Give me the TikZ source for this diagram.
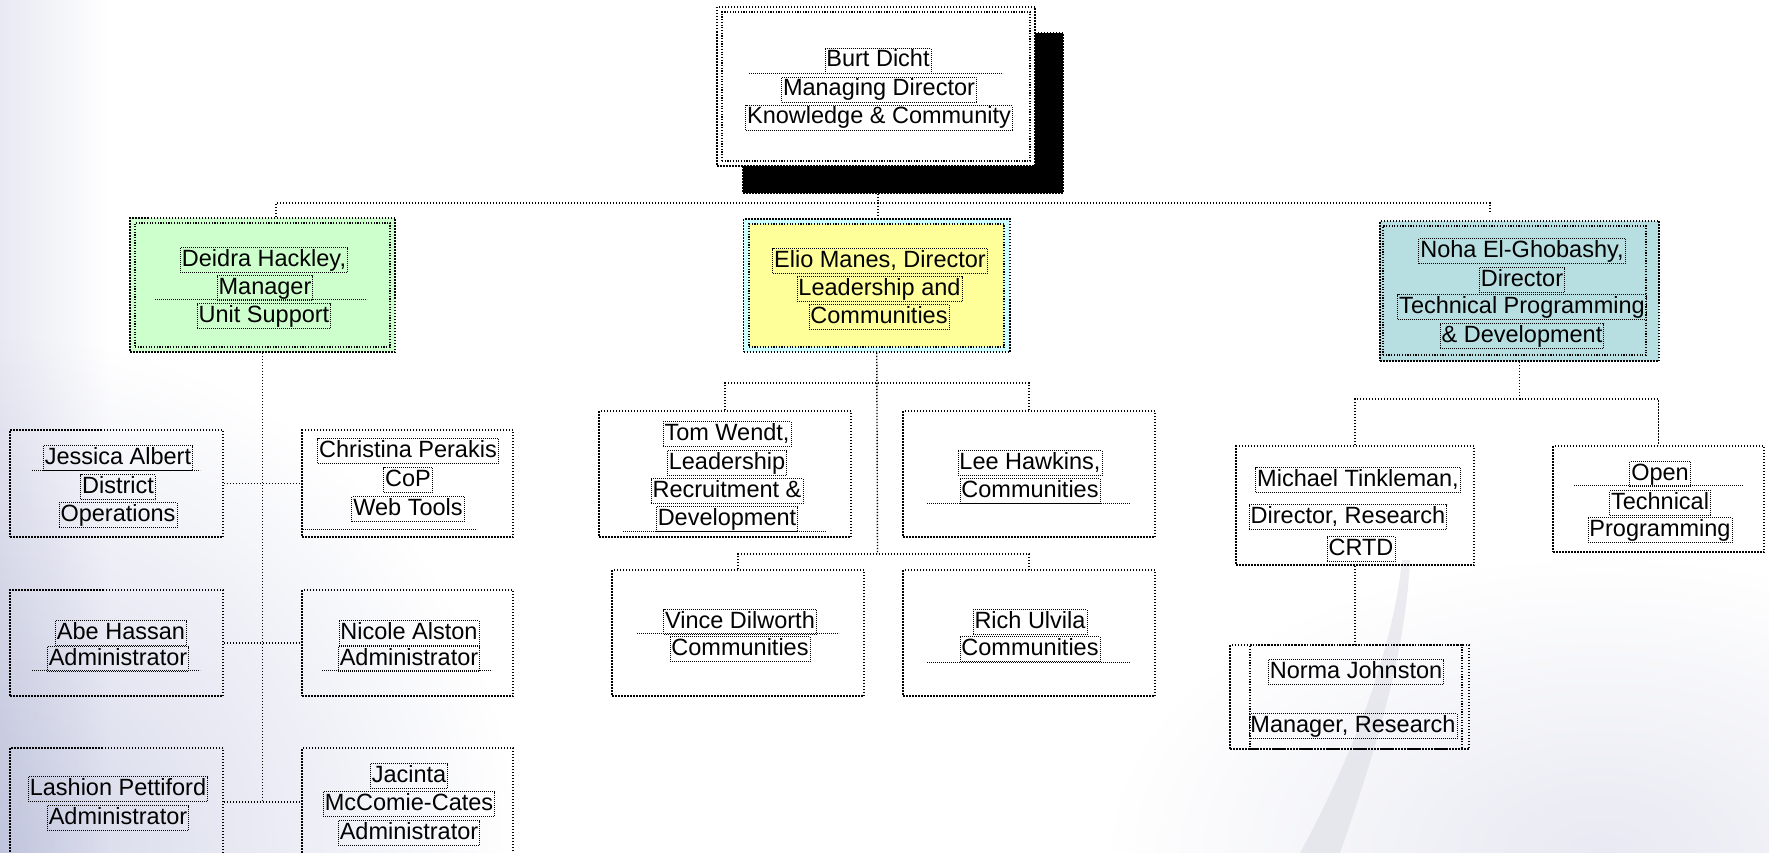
\documentclass[tikz,border=0pt]{standalone}
\usepackage{fontspec}
\setmainfont{Liberation Sans}
\usetikzlibrary{fit}
\definecolor{dgreen}{HTML}{CCFFCC}
\definecolor{ecyan}{HTML}{CCFFFF}
\definecolor{eyellow}{HTML}{FFFF99}
\definecolor{nteal}{HTML}{B7DEE0}
\definecolor{bglav}{HTML}{D3D6E8}
\definecolor{bglav2}{HTML}{E8E9F2}
\definecolor{swooshc}{HTML}{D5D5E0}
\begin{document}
\begin{tikzpicture}[x=1pt,y=-1pt,
  boxline/.style={draw=black, line width=1.5pt, dash pattern=on 1.5pt off 1.5pt},
  ubox/.style={boxline, inner sep=0pt},
  innerbox/.style={draw=black, line width=1.2pt, dash pattern=on 1.2pt off 1.5pt, inner sep=0pt},
  conn/.style={draw=black, line width=1.4pt, dash pattern=on 1.4pt off 1.6pt},
  tl/.style={draw=black, line width=0.8pt, dash pattern=on 0.8pt off 1.2pt, inner sep=1.5pt,
    text height=17pt, text depth=5pt, font=\fontsize{23.5}{28}\selectfont},
  rulel/.style={draw=black, line width=0.8pt, dash pattern=on 0.8pt off 1.2pt}]
\useasboundingbox (0,0) rectangle (1769,853);
\clip (0,0) rectangle (1769,853);
% background
\fill[white] (0,0) rectangle (1769,853);
\begin{scope}[blend mode=multiply]
\shade[left color=bglav2, right color=white] (0,0) rectangle (110,853);
\shade[inner color=bglav, outer color=white] (-520,333) rectangle (520,1373);
\shade[inner color=bglav2, outer color=white] (1100,553) rectangle (2100,1153);
\end{scope}
\fill[swooshc, opacity=0.45] (1402,560) .. controls (1392,660) and (1345,770) .. (1300,853)
  -- (1340,853) .. controls (1372,760) and (1405,660) .. (1410,560) -- cycle;

% ---------- top ----------
\node[fit={(743,33) (1063,193)}, boxline, fill=black, inner sep=0pt] (burtshadow) {};
\node[fit={(717,7) (1035,166)}, ubox, fill=white] (burt) {};
\node[fit={(722,12) (1030,161)}, innerbox] (burtin) {};
\draw[rulel] (749,73) -- (1003,73);
\node[tl] (burtA) at (878,61) {Burt Dicht};
\node[tl] (burtB) at (879,90) {Managing Director};
\node[tl] (burtC) at (879,118) {Knowledge \& Community};

% ---------- second level ----------
\node[fit={(130,218) (395,352)}, ubox, fill=dgreen] (deidra) {};
\node[fit={(135,223) (390,347)}, innerbox] (deidrain) {};
\draw[rulel] (155,299) -- (367,299);
\node[tl] (deidraA) at (264,260) {Deidra Hackley,};
\node[tl] (deidraB) at (265,288) {Manager};
\node[tl] (deidraC) at (264,316) {Unit Support};

\node[fit={(743.5,219) (1010,352)}, ubox, fill=ecyan] (elio) {};
\node[fit={(749,224) (1004,347)}, innerbox, fill=eyellow] (elioin) {};
\node[tl] (elioA) at (880,261) {Elio Manes, Director};
\node[tl] (elioB) at (879.5,289) {Leadership and};
\node[tl] (elioC) at (879,317) {Communities};

\node[fit={(1380,221) (1659,361)}, ubox, fill=nteal] (noha) {};
\node[fit={(1383,226) (1646,355)}, innerbox] (nohain) {};
\node[tl] (nohaA) at (1522,251) {Noha El-Ghobashy,};
\node[tl] (nohaB) at (1522,280) {Director};
\node[tl] (nohaC) at (1522,307) {Technical Programming};
\node[tl] (nohaD) at (1522,336) {\& Development};

% ---------- unit support staff ----------
\node[fit={(10,430) (223,537)}, ubox] (jessica) {};
\draw[rulel] (32,470) -- (200,470);
\node[tl] (jessicaA) at (118,458) {Jessica Albert};
\node[tl] (jessicaB) at (118,487) {District};
\node[tl] (jessicaC) at (118,515) {Operations};

\node[fit={(302,430) (513,537)}, ubox] (christina) {};
\draw[rulel] (303,529) -- (477,529);
\node[tl] (christinaA) at (408,451) {Christina Perakis};
\node[tl] (christinaB) at (408,480) {CoP};
\node[tl] (christinaC) at (408,509) {Web Tools};

\node[fit={(10,590) (223,696)}, ubox] (abe) {};
\draw[rulel] (32,670) -- (200,670);
\node[tl] (abeA) at (121,633) {Abe Hassan};
\node[tl] (abeB) at (118,659) {Administrator};

\node[fit={(302,590) (513,696)}, ubox] (nicole) {};
\draw[rulel] (322,670) -- (492,670);
\node[tl] (nicoleA) at (409,633) {Nicole Alston};
\node[tl] (nicoleB) at (409,659) {Administrator};

\node[fit={(10,748) (223,856)}, ubox] (lashion) {};
\node[tl] (lashionA) at (118,789) {Lashion Pettiford};
\node[tl] (lashionB) at (118,818) {Administrator};

\node[fit={(302,748) (513,856)}, ubox] (jacinta) {};
\node[tl] (jacintaA) at (409,776) {Jacinta};
\node[tl] (jacintaB) at (409,804) {McComie-Cates};
\node[tl] (jacintaC) at (409,833) {Administrator};

% ---------- leadership & communities staff ----------
\node[fit={(599,411) (851,537)}, ubox] (tom) {};
\draw[rulel] (623,531) -- (826,531);
\node[tl] (tomA) at (727,434) {Tom Wendt,};
\node[tl] (tomB) at (727,463) {Leadership};
\node[tl] (tomC) at (727,491) {Recruitment \&};
\node[tl] (tomD) at (727,519) {Development};

\node[fit={(903,411) (1155,537)}, ubox] (lee) {};
\draw[rulel] (927,503) -- (1130,503);
\node[tl] (leeA) at (1030,463) {Lee Hawkins,};
\node[tl] (leeB) at (1030,491) {Communities};

\node[fit={(612,570) (864,696)}, ubox] (vince) {};
\draw[rulel] (637,633) -- (839,633);
\node[tl] (vinceA) at (740,622) {Vince Dilworth};
\node[tl] (vinceB) at (740,649) {Communities};

\node[fit={(903,570) (1155,696)}, ubox] (rich) {};
\draw[rulel] (927,662) -- (1130,662);
\node[tl] (richA) at (1030,622) {Rich Ulvila};
\node[tl] (richB) at (1030,649) {Communities};

% ---------- technical programming staff ----------
\node[fit={(1236,446) (1474,565)}, ubox] (michael) {};
\node[tl] (michaelA) at (1358,480) {Michael Tinkleman,};
\node[tl] (michaelB) at (1348,517) {Director, Research};
\node[tl] (michaelC) at (1361,549) {CRTD};

\node[fit={(1553,446) (1764,552)}, ubox] (open) {};
\draw[rulel] (1574,485) -- (1743,485);
\node[tl] (openA) at (1660,474) {Open};
\node[tl] (openB) at (1660,503) {Technical};
\node[tl] (openC) at (1660,530) {Programming};

\node[fit={(1230,645) (1469,749)}, ubox] (norma) {};
\node[fit={(1250,645) (1462,749)}, innerbox] (normain) {};
\node[tl] (normaA) at (1356,672) {Norma Johnston};
\node[tl] (normaB) at (1353,726) {Manager, Research};

% ---------- connectors ----------
\coordinate (bar) at (878,203);
\coordinate (nohatick) at (1490,211);
\draw[conn] (burtshadow.south -| bar) -- (elio.north -| bar);
\draw[conn] ([xshift=13.5pt]deidra.north) |- (bar) -| (nohatick);

\coordinate (dspine) at (262.5,802);
\draw[conn] (deidra.south) -- (dspine);
\draw[conn] (jessica.east) -- (christina.west);
\draw[conn] (abe.east) -- (nicole.west);
\draw[conn] (lashion.east) -- (jacinta.west);

\coordinate (eb1) at (877.5,383);
\coordinate (eb2) at (877.5,554);
\draw[conn] (elio.south) -- (eb2);
\draw[conn] (tom.north) |- (eb1) -| (lee.north);
\draw[conn] (vince.north) |- (eb2) -| (rich.north);

\coordinate (nb) at (1519.5,399);
\draw[conn] (noha.south) -- (nb);
\draw[conn] (michael.north) |- (nb) -| (open.north);
\draw[conn] (michael.south) -- (michael.south |- norma.north);
\end{tikzpicture}
\end{document}
